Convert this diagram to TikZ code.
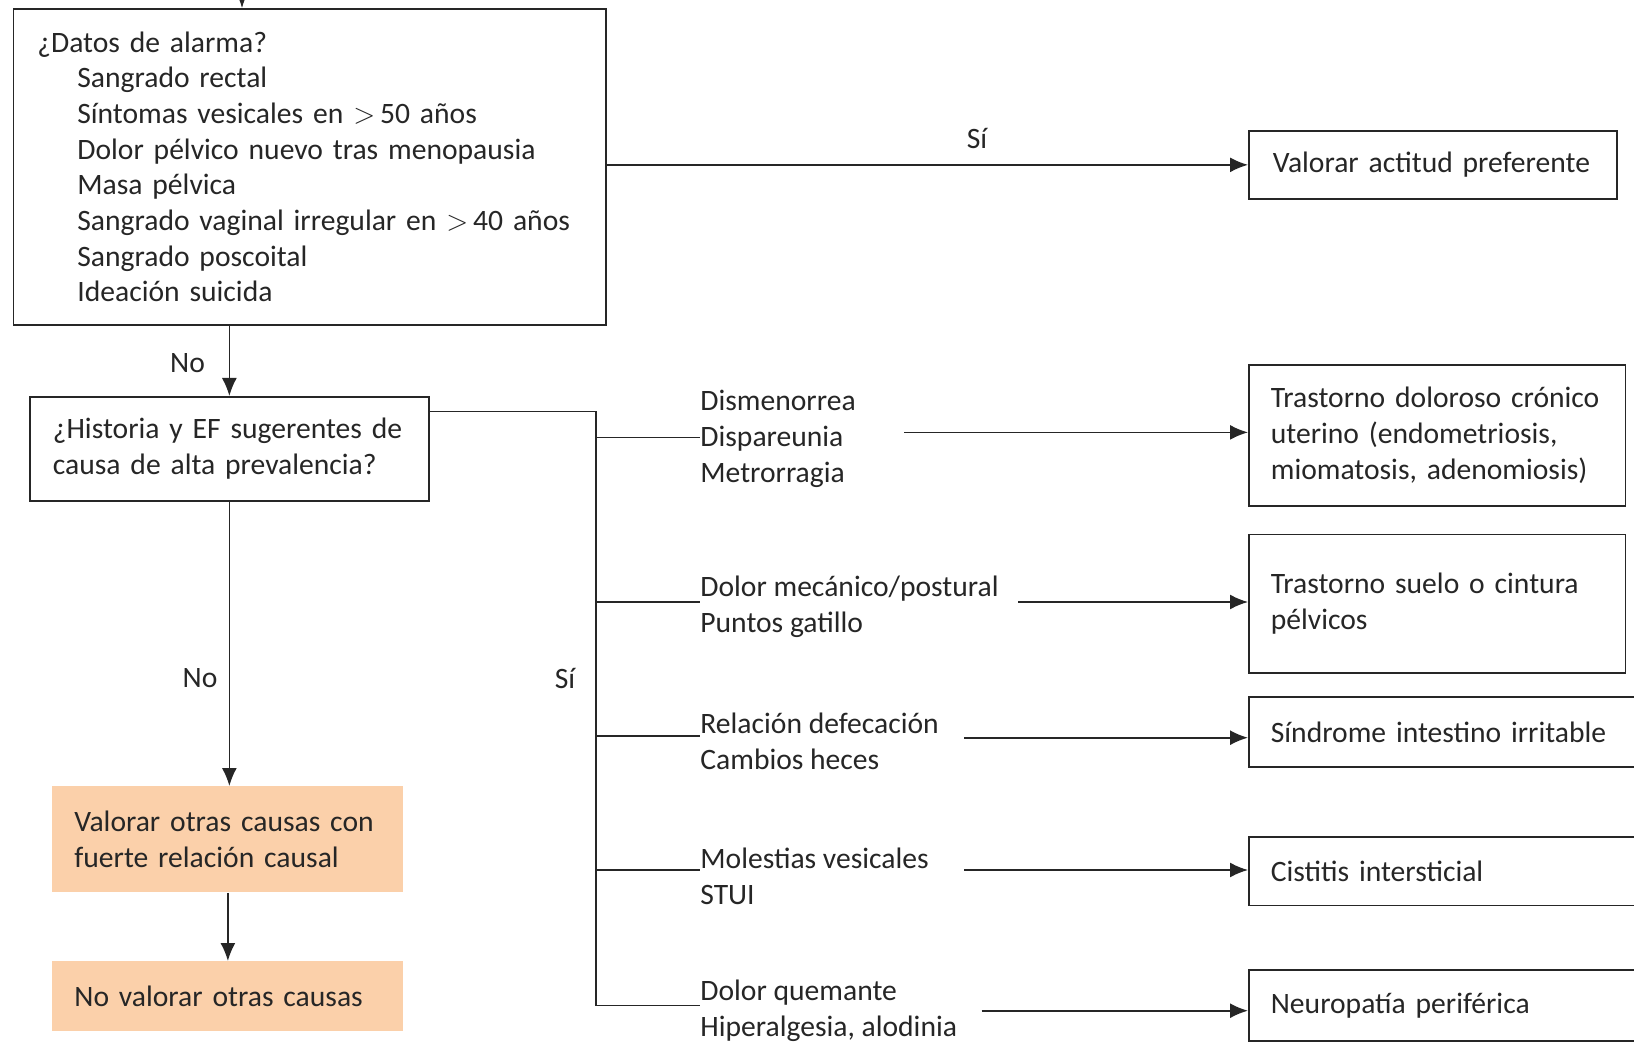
\documentclass[tikz,border=0pt]{standalone}
\usepackage{fontspec}
\setmainfont{Carlito}
\usetikzlibrary{arrows.meta}
\definecolor{peach}{HTML}{FBD0AA}
\definecolor{ink}{HTML}{262626}
\begin{document}
\begin{tikzpicture}[x=0.5pt,y=-0.5pt,
  font=\fontsize{14.8}{17.85}\selectfont,
  box/.style={draw=ink, line width=0.85pt, align=left, anchor=north west, inner ysep=0pt, text=ink},
  fillbox/.style={fill=peach, align=left, anchor=north west, inner ysep=0pt, text=ink},
  arr/.style={draw=ink, line width=0.85pt, -{Latex[length=9pt,width=7.5pt]}},
  ln/.style={draw=ink, line width=0.85pt},
  lbl/.style={text=ink, inner sep=0pt},
  txt/.style={text=ink, inner sep=0pt, anchor=west, align=left}]
\useasboundingbox (0,0) rectangle (1634,1043);
\clip (0,0) rectangle (1634,1043);
\fill[white] (0,0) rectangle (1634,1043);

% main boxes
\node[box, text width=272.25pt, inner xsep=12pt, minimum height=158pt] (alarma) at (12.5,8)
 {¿Datos de alarma?\\
  \hspace*{20pt}Sangrado rectal\\
  \hspace*{20pt}Síntomas vesicales en $>$\,50 años\\
  \hspace*{20pt}Dolor pélvico nuevo tras menopausia\\
  \hspace*{20pt}Masa pélvica\\
  \hspace*{20pt}Sangrado vaginal irregular en $>$\,40 años\\
  \hspace*{20pt}Sangrado poscoital\\
  \hspace*{20pt}Ideación suicida};
\node[box, text width=176.5pt, inner xsep=11.5pt, minimum height=52pt] (historia) at (29,396)
 {¿Historia y EF sugerentes de\\ causa de alta prevalencia?};
\node[fillbox, text width=153.5pt, inner xsep=11pt, minimum height=53pt] (otras) at (52,786)
 {Valorar otras causas con\\ fuerte relación causal};
\node[fillbox, text width=153.5pt, inner xsep=11pt, minimum height=35pt] (novalorar) at (52,961)
 {No valorar otras causas};

% right boxes
\node[box, text width=160pt, inner xsep=12pt, minimum height=34pt] (preferente) at (1248,130)
 {\mbox{Valorar actitud preferente}};
\node[box, text width=166.25pt, inner xsep=11pt, minimum height=70.5pt] (uterino) at (1248,364)
 {\mbox{Trastorno doloroso crónico}\\ uterino (endometriosis,\\ \mbox{miomatosis, adenomiosis)}};
\node[box, text width=166.25pt, inner xsep=11pt, minimum height=69.25pt] (suelo) at (1248,533.5)
 {Trastorno suelo o cintura\\ pélvicos};
\node[box, text width=300pt, inner xsep=11pt, minimum height=35pt] (sii) at (1248,696)
 {Síndrome intestino irritable};
\node[box, text width=300pt, inner xsep=11pt, minimum height=34.25pt] (cistitis) at (1248,836)
 {Cistitis intersticial};
\node[box, text width=300pt, inner xsep=11pt, minimum height=35.5pt] (neuro) at (1248,969)
 {Neuropatía periférica};

% branch texts
\node[txt] (dism) at (700,439) {Dismenorrea\\ Dispareunia\\ Metrorragia};
\node[txt] (mec) at (700,607) {Dolor mecánico/postural\\ Puntos gatillo};
\node[txt] (def) at (700,741) {Relación defecación\\ Cambios heces};
\node[txt] (ves) at (700,876) {Molestias vesicales\\ STUI};
\node[txt] (que) at (700,1011) {Dolor quemante\\ Hiperalgesia, alodinia};

% labels
\node[lbl] (si1) at (977,138) {Sí};
\node[lbl] (no1) at (187.6,363.5) {No};
\node[lbl] (no2) at (200,678) {No};
\node[lbl] (si2) at (565,678) {Sí};

% coordinates
\coordinate (topin) at (242,-20);
\coordinate (bt) at (596,411.6);
\coordinate (b1) at (596,437.6);
\coordinate (b2) at (596,602);
\coordinate (b3) at (596,735.7);
\coordinate (b4) at (596,870);
\coordinate (b5) at (596,1005.5);
\coordinate (a1) at (904,432.4);
\coordinate (a2) at (1018,602);
\coordinate (a3) at (964,737.7);
\coordinate (a4) at (964,870);
\coordinate (a5) at (981.6,1010.7);

% connectors
\draw[arr] (topin) -- (topin |- alarma.north);
\draw[arr] (alarma.east |- preferente.west) -- (preferente.west);
\draw[arr] (historia.north |- alarma.south) -- (historia.north);
\draw[arr] (historia.south) -- (historia.south |- otras.north);
\draw[arr] (otras.south) -- (novalorar.north);
\draw[ln] (historia.east |- bt) -- (bt) -- (b5) -- (b5 -| que.west);
\draw[ln] (b1) -- (b1 -| dism.west);
\draw[ln] (b2) -- (b2 -| mec.west);
\draw[ln] (b3) -- (b3 -| def.west);
\draw[ln] (b4) -- (b4 -| ves.west);
\draw[arr] (a1) -- (a1 -| uterino.west);
\draw[arr] (a2) -- (a2 -| suelo.west);
\draw[arr] (a3) -- (a3 -| sii.west);
\draw[arr] (a4) -- (a4 -| cistitis.west);
\draw[arr] (a5) -- (a5 -| neuro.west);
\end{tikzpicture}
\end{document}
